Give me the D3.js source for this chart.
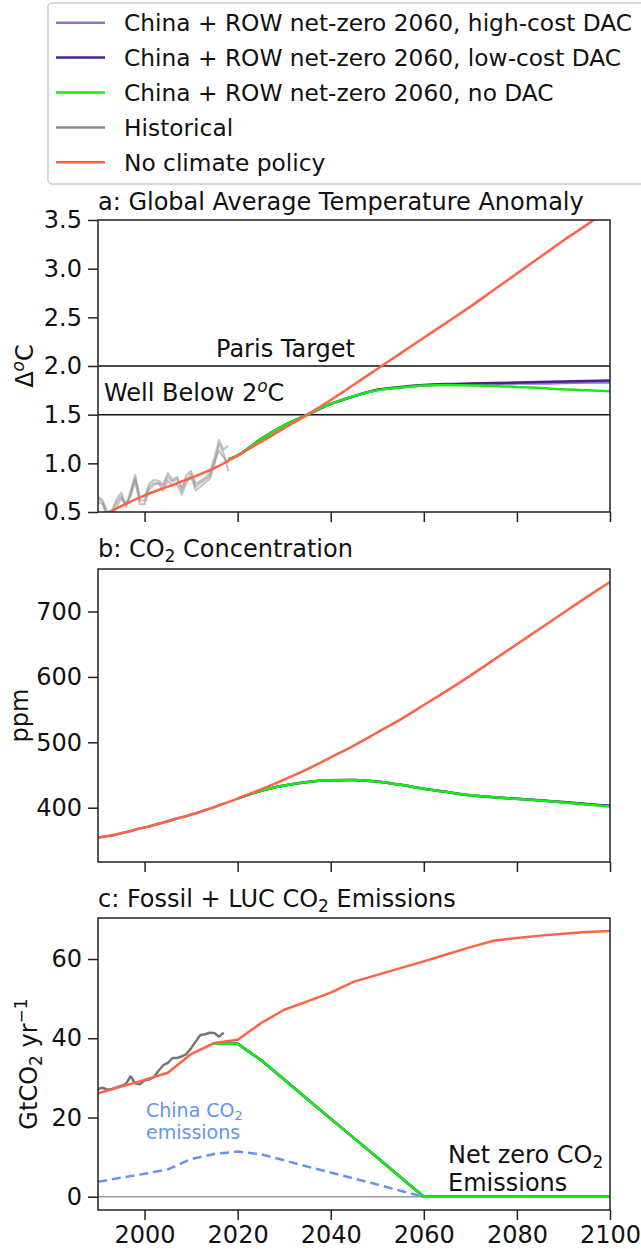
<!DOCTYPE html>
<html>
<head>
<meta charset="utf-8">
<script src="https://cdn.jsdelivr.net/npm/d3@7"></script>
<style>
  html, body { margin: 0; padding: 0; background: #fff; }
  svg { display: block; font-family: "DejaVu Sans", sans-serif; }
</style>
</head>
<body>
<svg id="chart" width="641" height="1249"></svg>
<script>
// ---------------- DATA ----------------
// Panel a: temperature anomaly (deg C)
const yearsA = [1990,1995,2000,2005,2010,2015,2020,2025,2030,2035,2040,2045,2050,2055,2060,2065,2070,2075,2080,2085,2090,2095,2100];
const tempNoPolicy = [0.44,0.56,0.67,0.76,0.85,0.95,1.08,1.22,1.36,1.50,1.65,1.81,1.97,2.13,2.29,2.45,2.61,2.78,2.95,3.12,3.29,3.45,3.62];
const yearsScenA = [2018,2020,2025,2030,2035,2040,2045,2050,2055,2060,2065,2070,2075,2080,2085,2090,2095,2100];
const tempNoDAC   = [1.04,1.08,1.25,1.39,1.50,1.61,1.69,1.75,1.78,1.80,1.805,1.80,1.795,1.785,1.775,1.76,1.75,1.74];
const tempLowDAC  = [1.04,1.08,1.25,1.39,1.50,1.61,1.69,1.755,1.785,1.805,1.815,1.82,1.825,1.83,1.835,1.84,1.845,1.85];
const tempHighDAC = [1.04,1.08,1.25,1.39,1.50,1.61,1.69,1.755,1.78,1.80,1.81,1.81,1.815,1.82,1.82,1.825,1.83,1.83];
const yearsHistA = [1990,1991,1992,1993,1994,1995,1996,1997,1998,1999,2000,2001,2002,2003,2004,2005,2006,2007,2008,2009,2010,2011,2012,2013,2014,2015,2016,2017,2018];
const tempHist1 = [0.64,0.60,0.47,0.50,0.60,0.66,0.55,0.68,0.85,0.62,0.62,0.76,0.80,0.80,0.76,0.86,0.81,0.84,0.72,0.84,0.89,0.76,0.80,0.83,0.87,1.02,1.13,1.06,1.00];
const tempHist2 = [0.60,0.58,0.44,0.46,0.55,0.64,0.58,0.66,0.82,0.58,0.58,0.73,0.78,0.79,0.72,0.82,0.77,0.78,0.68,0.80,0.86,0.72,0.76,0.80,0.84,0.98,1.20,1.10,0.92];
const tempHist3 = [0.66,0.62,0.50,0.52,0.63,0.70,0.57,0.72,0.88,0.65,0.66,0.79,0.83,0.82,0.78,0.90,0.83,0.86,0.75,0.88,0.92,0.79,0.82,0.85,0.90,1.06,1.24,1.14,1.18];

// Panel b: CO2 concentration (ppm)
const yearsB = [1990,1995,2000,2005,2010,2015,2020,2025,2030,2035,2040,2045,2050,2055,2060,2065,2070,2075,2080,2085,2090,2095,2100];
const co2NoPolicy = [354,361,370,379,389,401,414,428,443,459,477,495,515,535,557,579,602,626,650,674,698,722,745];
const yearsScenB = [2020,2025,2030,2035,2040,2045,2050,2055,2060,2065,2070,2075,2080,2085,2090,2095,2100];
const co2NoDAC   = [414,426,434,439.5,442,442.5,440,435,429,424,419,416,413.5,411,408,405,402];
const co2LowDAC  = [414,426,434,439.5,442,442.5,440,435,429,424,419,416,413.8,411.5,408.6,405.8,403];
const co2HighDAC = [414,426,434,439.5,442,442.5,440,435,429,424,419,416,413.6,411.2,408.3,405.4,402.5];
const yearsHistB = [1990,1991,1992,1993,1994,1995,1996,1997,1998,1999,2000,2001,2002,2003,2004,2005,2006,2007,2008,2009,2010,2011,2012,2013,2014,2015,2016,2017];
const co2Hist = [354.4,355.7,356.5,357.2,358.9,360.9,362.7,363.8,366.8,368.5,369.7,371.3,373.5,375.8,377.5,379.8,381.9,383.8,385.6,387.4,389.9,391.7,393.9,396.5,398.7,400.8,404.2,406.6];

// Panel c: Fossil + LUC CO2 emissions (GtCO2/yr)
const yearsC = [1990,1995,2000,2005,2010,2015,2020,2025,2030,2035,2040,2045,2050,2055,2060,2065,2070,2075,2080,2085,2090,2095,2100];
const emisNoPolicy = [26.1,27.8,29.5,31.3,36.0,38.8,39.6,43.8,47.2,49.3,51.5,54.3,56.0,57.7,59.4,61.2,63.0,64.6,65.3,65.9,66.4,66.8,67.1];
const yearsScenC = [2015,2020,2025,2030,2035,2040,2045,2050,2055,2060,2065,2070,2075,2080,2085,2090,2095,2100];
const emisNoDAC   = [38.6,38.6,34.5,29.6,24.6,19.7,14.8,9.9,4.9,0,0,0,0,0,0,0,0,0];
const emisLowDAC  = [38.6,38.6,34.5,29.6,24.6,19.7,14.8,9.9,4.9,0,0,0,0,0,0,0,0,0];
const emisHighDAC = [38.6,38.6,34.5,29.6,24.6,19.7,14.8,9.9,4.9,0,0,0,0,0,0,0,0,0];
const yearsHistC = [1990,1991,1992,1993,1994,1995,1996,1997,1998,1999,2000,2001,2002,2003,2004,2005,2006,2007,2008,2009,2010,2011,2012,2013,2014,2015,2016,2017];
const emisHist = [27.2,27.5,27.0,27.2,27.6,28.0,28.5,30.4,28.6,28.4,29.4,29.6,30.2,31.8,33.2,33.8,35.0,35.0,35.4,36.0,37.5,39.2,40.8,41.0,41.4,41.3,40.4,41.4];
const yearsChina = [1990,1995,2000,2005,2010,2015,2020,2025,2030,2035,2040,2045,2050,2055,2060];
const emisChina = [3.8,4.8,5.8,6.9,9.5,10.8,11.4,10.7,9.2,7.6,6.1,4.6,3.1,1.5,0];

// Ticks & labels
const xTicks = [2000,2020,2040,2060,2080,2100];
const yTicksA = [0.5,1.0,1.5,2.0,2.5,3.0,3.5];
const yTicksB = [400,500,600,700];
const yTicksC = [0,20,40,60];
const legendLabels = [
  "China + ROW net-zero 2060, high-cost DAC",
  "China + ROW net-zero 2060, low-cost DAC",
  "China + ROW net-zero 2060, no DAC",
  "Historical",
  "No climate policy"
];
const legendColors = ["#9370DB", "#4B1E8C", "#11EE11", "#888888", "#FF6347"];

// ---------------- LAYOUT ----------------
const svg = d3.select("#chart");
const FS = 24;
const LFS = 23.3;
const SUB = 17;
const left = 98, right = 610;
const panels = [
  {top: 220, bottom: 512, domain: [0.5, 3.5]},
  {top: 569, bottom: 862, domain: [317, 765]},
  {top: 918, bottom: 1210, domain: [-3.35, 70.35]}
];
const x = d3.scaleLinear().domain([1990, 2100]).range([left, right]);
const colHigh = legendColors[0], colLow = legendColors[1], colNo = legendColors[2], colHist = legendColors[3], colNP = legendColors[4];

function makeY(p) { return d3.scaleLinear().domain(p.domain).range([p.bottom, p.top]); }

function drawPanel(i, yTicks, tickFmt, showXLabels) {
  const p = panels[i];
  const y = makeY(p);
  const g = svg.append("g");
  const clipId = "clip" + i;
  svg.append("clipPath").attr("id", clipId).append("rect")
    .attr("x", left).attr("y", p.top).attr("width", right - left).attr("height", p.bottom - p.top);
  const ya = d3.axisLeft(y).tickValues(yTicks).tickFormat(tickFmt).tickSize(10).tickPadding(6);
  const yg = g.append("g").attr("transform", `translate(${left},0)`).call(ya);
  const xa = d3.axisBottom(x).tickValues(xTicks).tickFormat(showXLabels ? d3.format("d") : () => "").tickSize(10).tickPadding(6);
  const xg = g.append("g").attr("transform", `translate(0,${p.bottom})`).call(xa);
  [yg, xg].forEach(a => {
    a.select(".domain").remove();
    a.selectAll(".tick line").attr("stroke", "#222").attr("stroke-width", 1.5);
    a.selectAll(".tick text").attr("fill", "#111").style("font-size", FS + "px").style("font-family", "DejaVu Sans");
  });
  const plot = g.append("g").attr("clip-path", `url(#${clipId})`);
  return {g, plot, y, p};
}

function addLine(plot, y, xs, ys, color, width, opts = {}) {
  const data = xs.map((d, k) => [d, ys[k]]);
  const line = d3.line().x(d => x(d[0])).y(d => y(d[1])).curve(opts.curve || d3.curveLinear);
  const path = plot.append("path").datum(data).attr("d", line)
    .attr("fill", "none").attr("stroke", color).attr("stroke-width", width)
    .attr("stroke-linejoin", "round").attr("stroke-linecap", "butt");
  if (opts.opacity) path.attr("stroke-opacity", opts.opacity);
  if (opts.dash) path.attr("stroke-dasharray", opts.dash);
  return path;
}

function frame(g, p) {
  g.append("rect").attr("x", left).attr("y", p.top).attr("width", right - left).attr("height", p.bottom - p.top)
    .attr("fill", "none").attr("stroke", "#222").attr("stroke-width", 1.5);
}

function title(parts, yBase) {
  const t = svg.append("text").attr("x", left).attr("y", yBase).style("font-size", FS + "px").attr("fill", "#111");
  parts.forEach(pt => {
    const ts = t.append("tspan").text(pt.t);
    if (pt.sub) ts.style("font-size", SUB + "px").attr("dy", 5);
    if (pt.after) ts.attr("dy", -5);
  });
}

const smooth = {curve: d3.curveMonotoneX};

// ---- Panel a ----
{
  const {g, plot, y, p} = drawPanel(0, yTicksA, d3.format(".1f"), false);
  plot.append("line").attr("x1", left).attr("x2", right).attr("y1", y(2.0)).attr("y2", y(2.0)).attr("stroke", "#111").attr("stroke-width", 1.5);
  plot.append("line").attr("x1", left).attr("x2", right).attr("y1", y(1.5)).attr("y2", y(1.5)).attr("stroke", "#111").attr("stroke-width", 1.5);
  [tempHist1, tempHist2, tempHist3].forEach(h => addLine(plot, y, yearsHistA, h, colHist, 2, {opacity: 0.5}));
  addLine(plot, y, yearsScenA, tempHighDAC, colHigh, 2.5, smooth);
  addLine(plot, y, yearsScenA, tempLowDAC, colLow, 2.5, smooth);
  addLine(plot, y, yearsScenA, tempNoDAC, colNo, 2.5, smooth);
  addLine(plot, y, yearsA, tempNoPolicy, colNP, 2.5, smooth);
  frame(g, p);
  svg.append("text").attr("x", 216).attr("y", 357).style("font-size", FS + "px").attr("fill", "#111").text("Paris Target");
  const wb = svg.append("text").attr("x", 104).attr("y", 401).style("font-size", FS + "px").attr("fill", "#111");
  wb.append("tspan").text("Well Below 2");
  wb.append("tspan").text("o").style("font-size", SUB + "px").style("font-style", "italic").attr("dy", -9);
  wb.append("tspan").text("C").attr("dy", 9);
  const yl = svg.append("text").attr("transform", `translate(33,${(p.top + p.bottom) / 2}) rotate(-90)`)
    .attr("text-anchor", "middle").style("font-size", FS + "px").attr("fill", "#111");
  yl.append("tspan").text("Δ");
  yl.append("tspan").text("o").style("font-size", SUB + "px").style("font-style", "italic").attr("dy", -9);
  yl.append("tspan").text("C").attr("dy", 9);
  title([{t: "a: Global Average Temperature Anomaly"}], 210);
}

// ---- Panel b ----
{
  const {g, plot, y, p} = drawPanel(1, yTicksB, d3.format("d"), false);
  addLine(plot, y, yearsHistB, co2Hist, colHist, 2.5, smooth);
  addLine(plot, y, yearsScenB, co2HighDAC, colHigh, 2.5, smooth);
  addLine(plot, y, yearsScenB, co2LowDAC, colLow, 2.5, smooth);
  addLine(plot, y, yearsScenB, co2NoDAC, colNo, 2.5, smooth);
  addLine(plot, y, yearsB, co2NoPolicy, colNP, 2.5, smooth);
  frame(g, p);
  svg.append("text").attr("transform", `translate(28,${(p.top + p.bottom) / 2}) rotate(-90)`)
    .attr("text-anchor", "middle").style("font-size", FS + "px").attr("fill", "#111").text("ppm");
  title([{t: "b: CO"}, {t: "2", sub: true}, {t: " Concentration", after: true}], 557);
}

// ---- Panel c ----
{
  const {g, plot, y, p} = drawPanel(2, yTicksC, d3.format("d"), true);
  plot.append("line").attr("x1", left).attr("x2", right).attr("y1", y(0)).attr("y2", y(0)).attr("stroke", "#999").attr("stroke-width", 1.5);
  addLine(plot, y, yearsHistC, emisHist, "#777", 2.5);
  addLine(plot, y, yearsScenC, emisHighDAC, colHigh, 2.5);
  addLine(plot, y, yearsScenC, emisLowDAC, colLow, 2.5);
  addLine(plot, y, yearsScenC, emisNoDAC, colNo, 2.5);
  addLine(plot, y, yearsC, emisNoPolicy, colNP, 2.5);
  addLine(plot, y, yearsChina, emisChina, "#6495ED", 2.5, {dash: "9,5"});
  frame(g, p);
  const yl = svg.append("text").attr("transform", `translate(37,${(p.top + p.bottom) / 2}) rotate(-90)`)
    .attr("text-anchor", "middle").style("font-size", FS + "px").attr("fill", "#111");
  yl.append("tspan").text("GtCO");
  yl.append("tspan").text("2").style("font-size", SUB + "px").attr("dy", 5);
  yl.append("tspan").text(" yr").attr("dy", -5);
  yl.append("tspan").text("−1").style("font-size", SUB + "px").attr("dy", -10);
  // China annotation
  const ch = svg.append("text").attr("x", 146).attr("y", 1117).style("font-size", "19px").attr("fill", "#6495ED");
  ch.append("tspan").text("China CO");
  ch.append("tspan").text("2").style("font-size", "13px").attr("dy", 3);
  svg.append("text").attr("x", 146).attr("y", 1139).style("font-size", "19px").attr("fill", "#6495ED").text("emissions");
  // Net zero annotation
  const nz = svg.append("text").attr("x", 448).attr("y", 1163).style("font-size", FS + "px").attr("fill", "#111");
  nz.append("tspan").text("Net zero CO");
  nz.append("tspan").text("2").style("font-size", SUB + "px").attr("dy", 5);
  svg.append("text").attr("x", 448).attr("y", 1191).style("font-size", FS + "px").attr("fill", "#111").text("Emissions");
  title([{t: "c: Fossil + LUC CO"}, {t: "2", sub: true}, {t: " Emissions", after: true}], 907);
}

// ---- Legend ----
{
  const lg = svg.append("g");
  lg.append("rect").attr("x", 48).attr("y", 3).attr("width", 640).attr("height", 181).attr("rx", 4)
    .attr("fill", "#fff").attr("fill-opacity", 0.8).attr("stroke", "#ccc").attr("stroke-width", 1.5);
  legendLabels.forEach((lab, k) => {
    const cy = 22.7 + k * 34.9;
    lg.append("line").attr("x1", 56).attr("x2", 105).attr("y1", cy).attr("y2", cy)
      .attr("stroke", legendColors[k]).attr("stroke-width", 2.5);
    lg.append("text").attr("x", 124).attr("y", cy + 8.3).style("font-size", LFS + "px").attr("fill", "#111").text(lab);
  });
}
</script>
</body>
</html>
